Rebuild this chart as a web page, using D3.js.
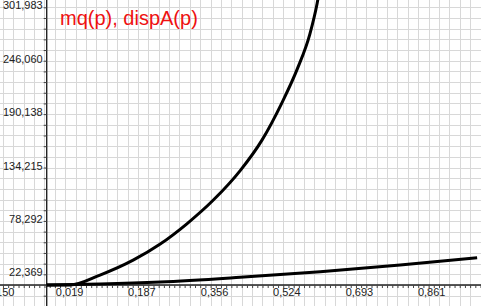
<!DOCTYPE html>
<html>
<head>
<meta charset="utf-8">
<script src="https://cdn.jsdelivr.net/npm/d3@7"></script>
<style>
  body { margin: 0; background: #fff; }
  svg { display: block; }
</style>
</head>
<body>
<div class="board"></div>
<script>
//General Settings

var settings = {
  w: 481,
  h: 306,
  originX: 46.7,
  originY: 285,
  pxPerX: 430,
  pxPerY: 0.9549
};

// tick labels
var xTickValues = [-0.150, 0.019, 0.187, 0.356, 0.524, 0.693, 0.861];
var yTickValues = [22.369, 78.292, 134.215, 190.138, 246.060, 301.983];

// mq(p)
var mqP = [0, 0.054, 0.124, 0.201, 0.264, 0.326, 0.387, 0.450, 0.501, 0.547, 0.584, 0.612, 0.629, 0.640];
var mqV = [0, 0, 10.4, 26.0, 42.9, 64.1, 88.7, 119.8, 152.0, 190.8, 227.6, 262.8, 295.1, 323.9];

// dispA(p)
var dispP = [0, 0.124, 0.264, 0.450, 0.636, 0.822, 1.001];
var dispV = [0, 1.05, 3.14, 8.06, 13.93, 20.94, 28.59];

var fmt = d3.formatLocale({decimal: ',', thousands: '.', grouping: [3], currency: ['', ''], minus: '-'}).format('.3f');

var x = d3.scaleLinear()
  .domain([0, 1])
  .range([settings.originX, settings.originX + settings.pxPerX]);

var y = d3.scaleLinear()
  .domain([0, 100])
  .range([settings.originY, settings.originY - 100 * settings.pxPerY]);

//create the board
var board = d3.select('.board')
  .append('svg')
  .attr('width', settings.w)
  .attr('height', settings.h)
  .style('font-family', '"Liberation Sans", Arial, sans-serif');

board.append('rect')
  .attr('width', settings.w)
  .attr('height', settings.h)
  .attr('fill', '#fff');

//grid
var xStep = (xTickValues[1] - xTickValues[0]) / 7;
var yStep = (yTickValues[1] - yTickValues[0]) / 5;
var xGrid = d3.range(-30, 80).map(function(i) { return xTickValues[1] + i * xStep; })
  .filter(function(v) { return x(v) >= 0 && x(v) <= settings.w; });
var yGrid = d3.range(-10, 40).map(function(i) { return yTickValues[0] + i * yStep; })
  .filter(function(v) { return y(v) >= 0 && y(v) <= settings.h; });

var grid = board.append('g').attr('class', 'grid');
grid.selectAll('.vx')
  .data(xGrid)
  .enter()
  .append('line')
  .attr('x1', function(d) { return Math.round(x(d)) + 0.5; })
  .attr('x2', function(d) { return Math.round(x(d)) + 0.5; })
  .attr('y1', 0)
  .attr('y2', settings.h)
  .attr('stroke', '#d8d8d8');
grid.selectAll('.hy')
  .data(yGrid)
  .enter()
  .append('line')
  .attr('y1', function(d) { return Math.round(y(d)) + 0.5; })
  .attr('y2', function(d) { return Math.round(y(d)) + 0.5; })
  .attr('x1', 0)
  .attr('x2', settings.w)
  .attr('stroke', '#d8d8d8');

//axes lines
board.append('line')
  .attr('x1', 0).attr('x2', settings.w)
  .attr('y1', y(0)).attr('y2', y(0))
  .attr('stroke', '#222').attr('stroke-width', 1.4);
board.append('line')
  .attr('x1', x(0)).attr('x2', x(0))
  .attr('y1', 0).attr('y2', settings.h)
  .attr('stroke', '#222').attr('stroke-width', 1.4);

//minor ticks
var xMinor = d3.range(-60, 160).map(function(i) { return xTickValues[1] + i * xStep / 2; })
  .filter(function(v) { return x(v) >= 0 && x(v) <= settings.w; });

board.append('g')
  .attr('transform', 'translate(0,' + y(0) + ')')
  .call(d3.axisBottom(x).tickValues(xMinor).tickSize(3).tickFormat(''))
  .call(function(g) { g.select('.domain').remove(); })
  .selectAll('line').attr('stroke', '#444');

board.append('g')
  .attr('transform', 'translate(' + x(0) + ',0)')
  .call(d3.axisLeft(y).tickValues(yGrid).tickSize(3).tickFormat(''))
  .call(function(g) { g.select('.domain').remove(); })
  .selectAll('line').attr('stroke', '#444');

//tick labels
var xAxis = board.append('g')
  .attr('transform', 'translate(0,' + y(0) + ')')
  .call(d3.axisBottom(x).tickValues(xTickValues).tickSize(0).tickFormat(fmt));
xAxis.select('.domain').remove();
xAxis.selectAll('text')
  .attr('text-anchor', 'start')
  .attr('x', 0.5)
  .attr('y', 10.5)
  .attr('dy', null)
  .attr('fill', '#222')
  .style('font-size', '11px')
  .style('font-family', '"Liberation Sans", Arial, sans-serif');

var yAxis = board.append('g')
  .attr('transform', 'translate(' + x(0) + ',0)')
  .call(d3.axisLeft(y).tickValues(yTickValues).tickSize(0).tickFormat(fmt));
yAxis.select('.domain').remove();
yAxis.selectAll('text')
  .attr('text-anchor', 'end')
  .attr('x', -4)
  .attr('y', 12.3)
  .attr('dy', null)
  .attr('fill', '#222')
  .style('font-size', '11px')
  .style('font-family', '"Liberation Sans", Arial, sans-serif');

//curves
var line = d3.line()
  .x(function(d) { return x(d[0]); })
  .y(function(d) { return y(d[1]); })
  .curve(d3.curveMonotoneX);

board.append('path')
  .datum(d3.zip(dispP, dispV))
  .attr('d', line)
  .attr('fill', 'none')
  .attr('stroke', '#000')
  .attr('stroke-width', 3);

board.append('path')
  .datum(d3.zip(mqP, mqV))
  .attr('d', line)
  .attr('fill', 'none')
  .attr('stroke', '#000')
  .attr('stroke-width', 3);

//title
board.append('text')
  .attr('x', 60)
  .attr('y', 25)
  .attr('fill', '#ee1111')
  .style('font-size', '20px')
  .text('mq(p), dispA(p)');
</script>
</body>
</html>
